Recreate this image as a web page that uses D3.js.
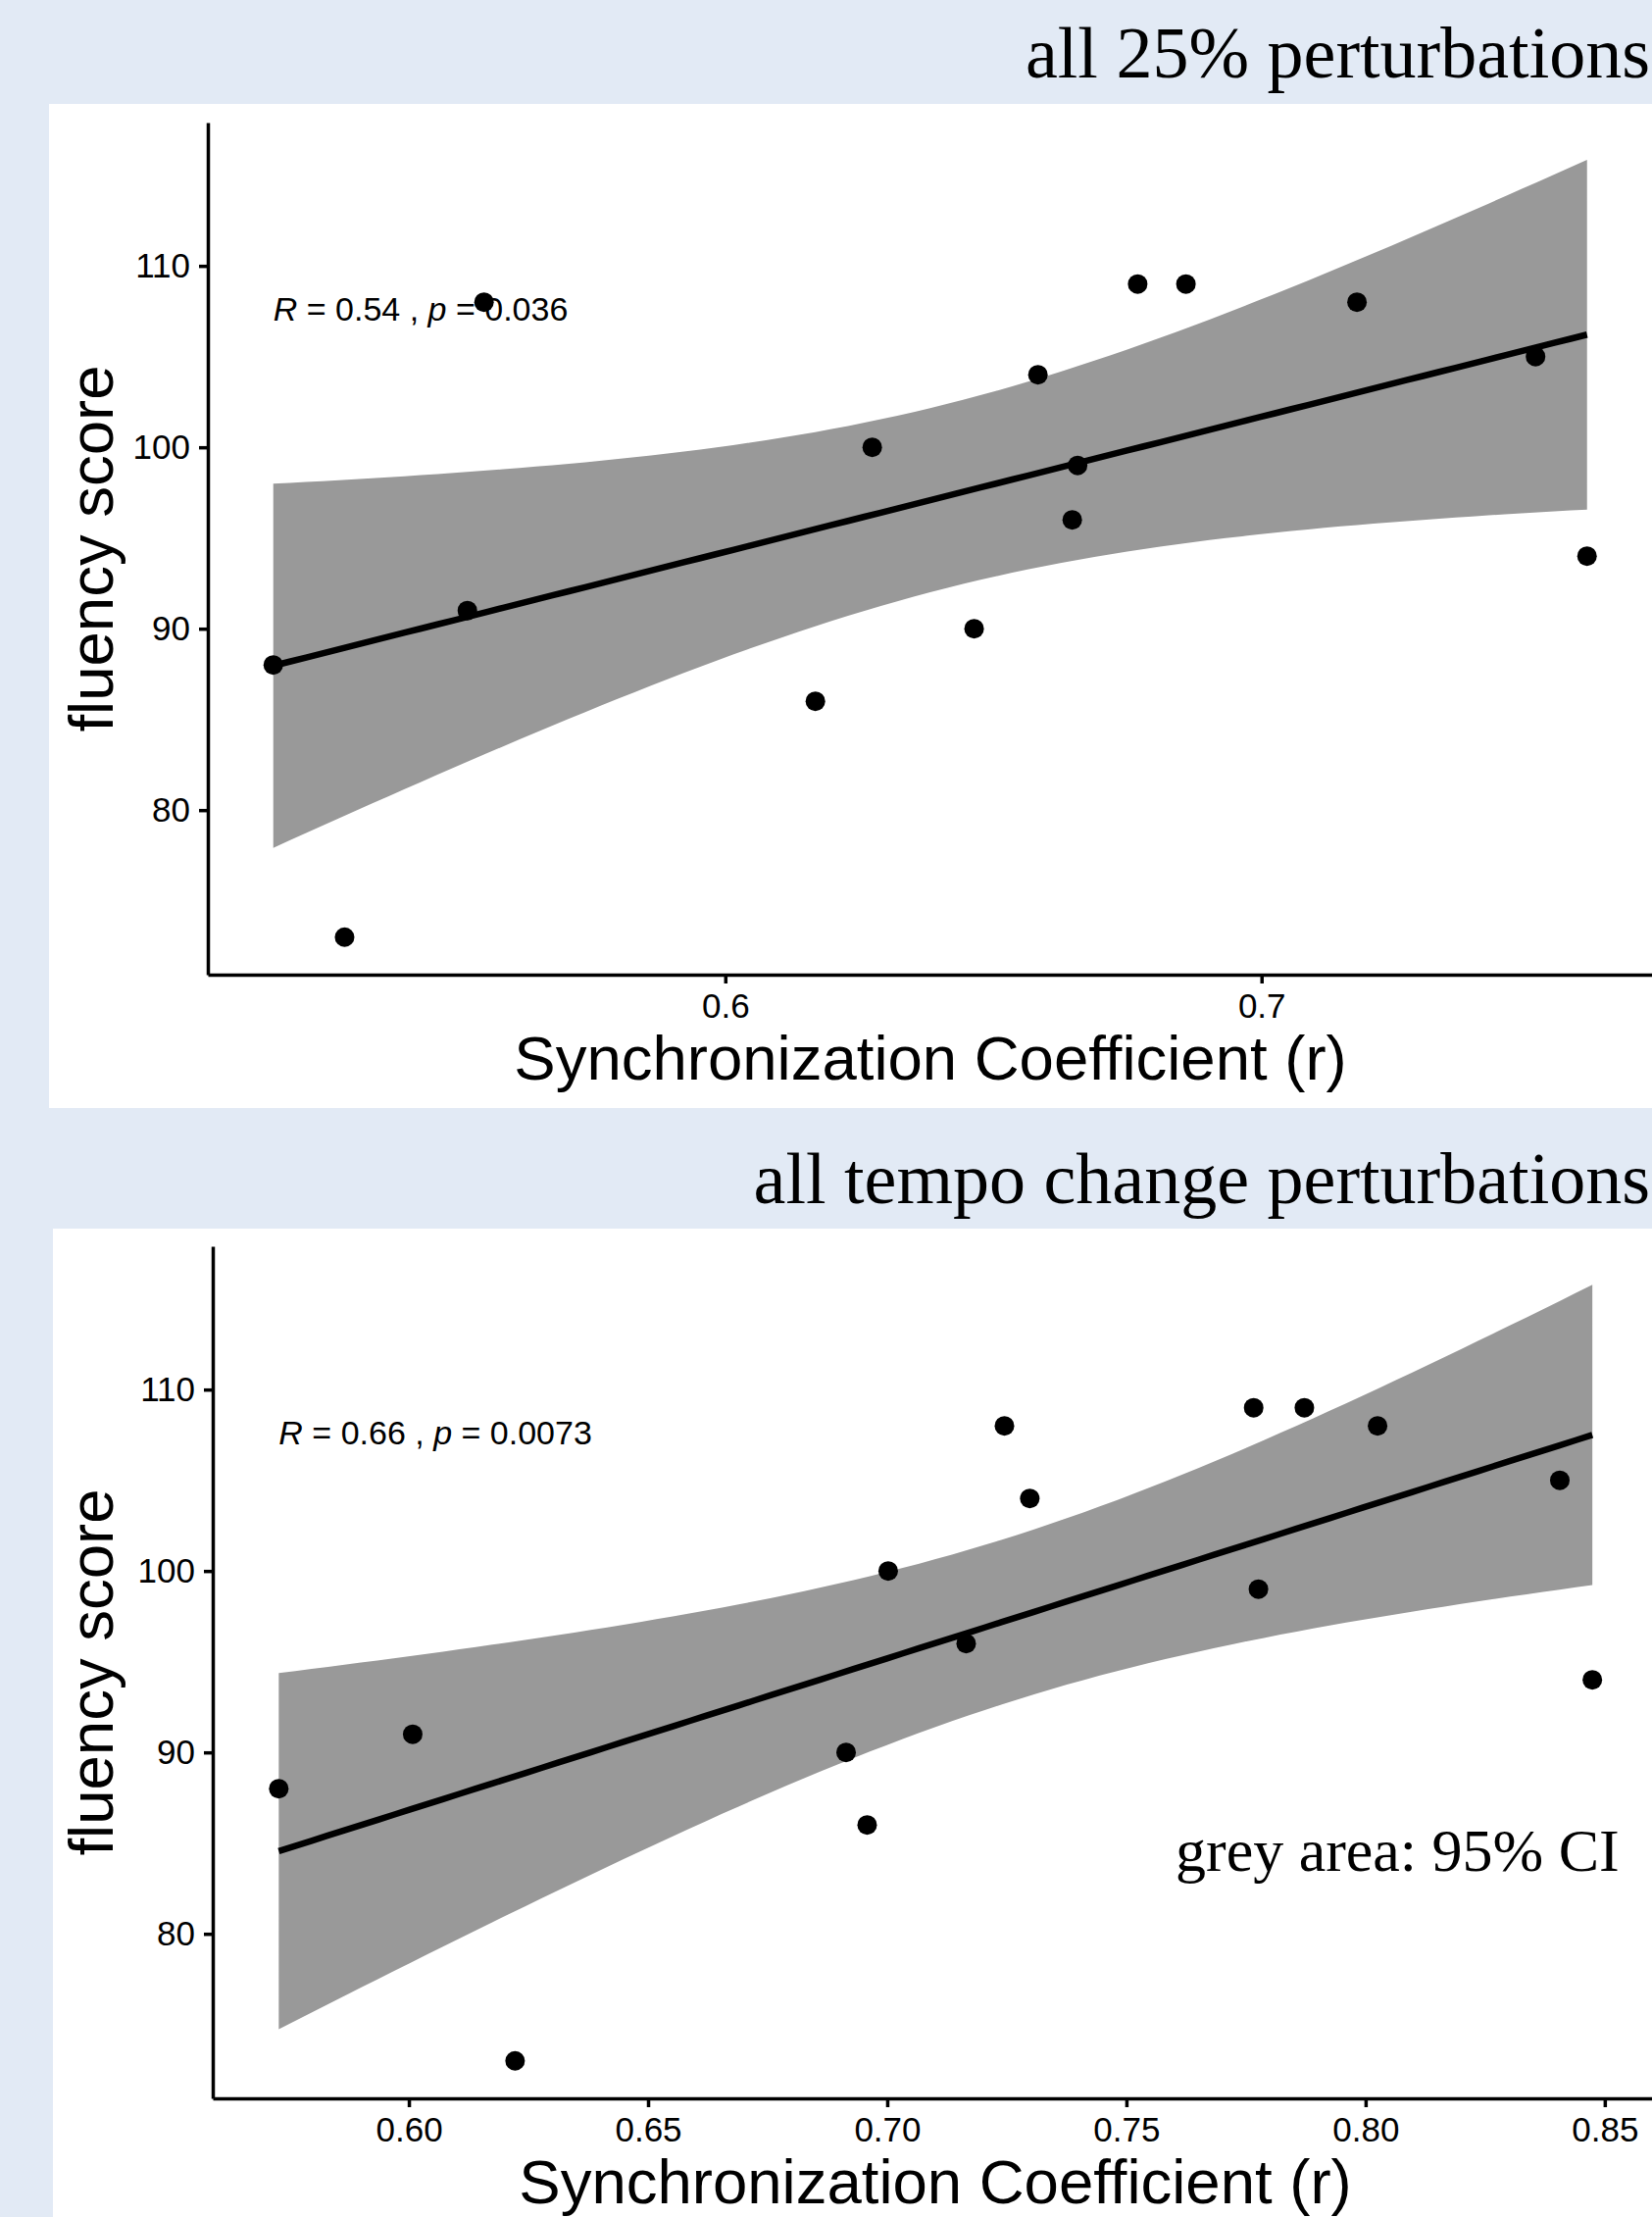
<!DOCTYPE html>
<meta charset="utf-8">
<style>
    body { margin: 0; background: #e2eaf5; }
    svg { display: block; }
    .axis path, .axis line { stroke: #000; stroke-width: 3.5px; }
    .axis text { font-family: "Liberation Sans", Arial, sans-serif; font-size: 35px; fill: #000; }
    .axis-title { font-family: "Liberation Sans", Arial, sans-serif; font-size: 63.5px; fill: #000; }
    .panel-title { font-family: "Liberation Serif", "Times New Roman", serif; font-size: 74px; fill: #000; }
    .stat { font-family: "Liberation Sans", Arial, sans-serif; font-size: 34px; fill: #000; }
    .band { fill: #999999; }
    .fit { fill: none; stroke: #000; stroke-width: 6.5px; }
</style>
<body>
<script src="https://d3js.org/d3.v7.min.js"></script>
<script>
    // ---- data ----
    // panel 1: all 25% perturbations
    var sync25 = [0.5157, 0.529, 0.5519, 0.555, 0.6168, 0.6274, 0.6464, 0.6583, 0.6647, 0.6657, 0.6769, 0.6859, 0.7178, 0.7511, 0.7607];
    var fluency25 = [88, 73, 91, 108, 86, 100, 90, 104, 96, 99, 109, 109, 108, 105, 94];
    var xTicks25 = [0.6, 0.7];

    // panel 2: all tempo change perturbations
    var syncTempo = [0.5728, 0.6008, 0.6222, 0.6914, 0.6958, 0.7002, 0.7165, 0.7245, 0.7298, 0.7766, 0.7776, 0.7872, 0.8025, 0.8406, 0.8474];
    var fluencyTempo = [88, 91, 73, 90, 86, 100, 96, 108, 104, 109, 99, 109, 108, 105, 94];
    var xTicksTempo = [0.60, 0.65, 0.70, 0.75, 0.80, 0.85];

    var yTicks = [80, 90, 100, 110];
    var panelTitles = ["all 25% perturbations", "all tempo change perturbations"];
    var statLabels = [["0.54", "0.036"], ["0.66", "0.0073"]];

    var W = 1685, H = 2261;

    var svg = d3.select("body").append("svg")
        .attr("width", W)
        .attr("height", H);

    // slide background + white plot boxes
    svg.append("rect").attr("width", W).attr("height", H).attr("fill", "#e2eaf5");
    svg.append("rect").attr("x", 50).attr("y", 106).attr("width", W - 50).attr("height", 1024).attr("fill", "#fff");
    svg.append("rect").attr("x", 54).attr("y", 1253).attr("width", W - 54).attr("height", H - 1253).attr("fill", "#fff");

    // ordinary least squares fit + 95% confidence band (like geom_smooth(method = "lm"))
    function lmFit(xs, ys) {
        var n = xs.length,
            mx = d3.mean(xs),
            my = d3.mean(ys),
            sxx = 0, sxy = 0, syy = 0;
        for (var i = 0; i < n; i++) {
            sxx += (xs[i] - mx) * (xs[i] - mx);
            sxy += (xs[i] - mx) * (ys[i] - my);
            syy += (ys[i] - my) * (ys[i] - my);
        }
        var b = sxy / sxx,
            a = my - b * mx,
            s = Math.sqrt((syy - b * sxy) / (n - 2)),
            t = 2.1604; // t(0.975, df = 13)
        var lo = d3.min(xs), hi = d3.max(xs);
        var grid = d3.range(0, 81).map(function(k) {
            var x = lo + (hi - lo) * k / 80;
            var fit = a + b * x;
            var se = s * Math.sqrt(1 / n + (x - mx) * (x - mx) / sxx);
            return { x: x, fit: fit, lower: fit - t * se, upper: fit + t * se };
        });
        return grid;
    }

    function drawPanel(opt) {
        var x = d3.scaleLinear().domain(opt.xDomain).range([opt.left, opt.right]);
        var y = d3.scaleLinear().domain([70.93, 117.9]).range([opt.bottom, opt.top]);

        var g = svg.append("g");
        var fit = lmFit(opt.xs, opt.ys);

        // confidence band
        g.append("path")
            .datum(fit)
            .attr("class", "band")
            .attr("d", d3.area()
                .x(function(d) { return x(d.x); })
                .y0(function(d) { return y(d.lower); })
                .y1(function(d) { return y(d.upper); }));

        // regression line
        g.append("path")
            .datum(fit)
            .attr("class", "fit")
            .attr("d", d3.line()
                .x(function(d) { return x(d.x); })
                .y(function(d) { return y(d.fit); }));

        // points
        g.selectAll("circle")
            .data(opt.xs.map(function(v, i) { return [v, opt.ys[i]]; }))
            .enter().append("circle")
            .attr("cx", function(d) { return x(d[0]); })
            .attr("cy", function(d) { return y(d[1]); })
            .attr("r", 10)
            .attr("fill", "#000");

        // axes
        g.append("g")
            .attr("class", "axis")
            .attr("transform", "translate(0," + opt.bottom + ")")
            .call(d3.axisBottom(x).tickValues(opt.xTicks).tickFormat(d3.format(opt.fmt))
                .tickSizeInner(9).tickSizeOuter(0).tickPadding(10));

        g.append("g")
            .attr("class", "axis")
            .attr("transform", "translate(" + opt.left + ",0)")
            .call(d3.axisLeft(y).tickValues(yTicks).tickFormat(d3.format("d"))
                .tickSizeInner(9).tickSizeOuter(0).tickPadding(9));

        // R and p annotation
        var st = g.append("text")
            .attr("class", "stat")
            .attr("x", x(d3.min(opt.xs)))
            .attr("y", y(107));
        st.append("tspan").style("font-style", "italic").text("R");
        st.append("tspan").text(" = " + opt.stat[0] + " , ");
        st.append("tspan").style("font-style", "italic").text("p");
        st.append("tspan").text(" = " + opt.stat[1]);

        // axis titles
        g.append("text")
            .attr("class", "axis-title")
            .attr("text-anchor", "middle")
            .attr("x", (opt.left + opt.right) / 2)
            .attr("y", opt.bottom + 107)
            .text("Synchronization Coefficient (r)");

        g.append("text")
            .attr("class", "axis-title")
            .attr("text-anchor", "middle")
            .attr("transform", "translate(115," + (opt.top + opt.bottom) / 2 + ") rotate(-90)")
            .text("fluency score");

        // panel title, right-aligned against the slide edge
        svg.append("text")
            .attr("class", "panel-title")
            .attr("text-anchor", "end")
            .attr("x", 1683)
            .attr("y", opt.titleY)
            .text(opt.title);
    }

    drawPanel({
        xs: sync25, ys: fluency25, xTicks: xTicks25, fmt: ".1f",
        xDomain: [0.5035, 0.773], left: 212, right: 1686, top: 125, bottom: 994,
        stat: statLabels[0], title: panelTitles[0], titleY: 79
    });

    drawPanel({
        xs: syncTempo, ys: fluencyTempo, xTicks: xTicksTempo, fmt: ".2f",
        xDomain: [0.559, 0.8611], left: 217, right: 1691, top: 1271, bottom: 2140,
        stat: statLabels[1], title: panelTitles[1], titleY: 1227
    });

    // note inside the lower panel
    svg.append("text")
        .attr("class", "panel-title")
        .style("font-size", "62px")
        .attr("x", 1199)
        .attr("y", 1908)
        .text("grey area: 95% CI");
</script>
</body>
